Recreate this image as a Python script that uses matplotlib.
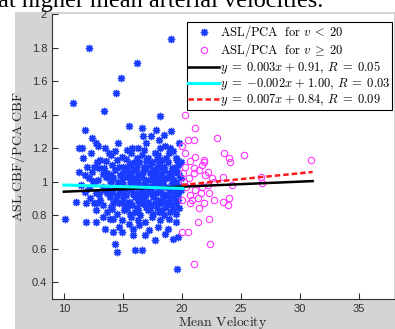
import matplotlib
matplotlib.use('Agg')
import matplotlib.pyplot as plt
from matplotlib.patches import Rectangle
from matplotlib.lines import Line2D

plt.rcParams['mathtext.fontset'] = 'cm'

# ---------------- data ----------------
blue_x = [12.1, 19.06, 16.17, 14.86, 14.4, 10.77, 13.38, 18.2,
          11.8, 15.5, 16.6, 17.8, 19.1, 12.4, 12.7, 11.57, 11.3, 13.5, 16.7, 17.4, 18.5, 18.1,
          11.0, 10.06, 11.9, 12.76, 13.47, 14.3, 14.55, 16.0, 16.6, 19.6, 18.6, 19.3, 19.7, 16.9,
          17.7, 15.9, 15.5, 14.9, 14.2, 12.7, 12.6, 13.3, 13.9, 11.9, 11.76,
          12.9, 13.8, 14.6, 15.4, 16.3, 17.0, 17.7, 18.6, 19.3, 19.8,
          11.6, 12.3, 13.1, 14.0, 14.9, 15.7, 16.0, 16.6, 17.1, 17.5, 18.0, 18.3, 18.9, 19.5, 19.9,
          12.0, 12.8, 13.4, 14.1, 14.5, 15.0, 15.6, 15.9, 16.4, 16.8, 17.3, 17.6, 18.1, 18.5, 18.8, 19.2, 19.7,
          11.3, 12.4, 13.0, 13.7, 14.3, 14.8, 15.3, 15.7, 16.1, 16.5, 16.9, 17.3, 17.8, 18.1, 18.5, 18.9, 19.4, 19.8,
          12.1, 12.9, 13.6, 14.2, 14.6, 15.2, 15.9, 16.3, 16.6, 17.0, 17.5, 17.9, 18.3, 18.7, 19.1, 19.5, 19.9,
          11.5, 12.6, 13.3, 14.0, 14.5, 15.0, 15.5, 16.0, 16.4, 16.8, 17.2, 17.7, 18.0, 18.4, 18.9, 19.2, 19.6,
          11.8, 12.7, 13.4, 14.1, 14.8, 15.3, 15.7, 16.1, 16.6, 16.9, 17.4, 17.8, 18.2, 18.6, 19.0, 19.5, 19.9,
          12.2, 13.1, 13.9, 14.4, 15.0, 15.5, 16.0, 16.3, 16.8, 17.1, 17.6, 18.0, 18.4, 18.8, 19.3, 19.7,
          13.3, 14.0, 14.7, 15.2, 15.8, 16.2, 16.6, 17.0, 17.4, 17.9, 18.3, 18.7, 19.2, 19.8,
          13.7, 14.5, 15.1, 15.6, 16.0, 16.5, 17.1, 17.6, 18.1, 18.5, 19.0, 19.5,
          14.2, 14.9, 15.7, 16.3, 16.9, 17.5, 18.2, 18.9, 19.5,
          14.7, 15.9, 16.4, 17.2, 18.0, 18.8,
          13.6, 15.3, 16.2, 17.0, 17.9, 18.7, 19.6,
          12.6, 14.7, 15.4, 16.2, 17.0, 17.9, 18.3, 19.5,
          13.3, 14.0, 15.0, 15.5, 16.3, 16.7, 17.6, 18.3, 19.1, 19.6,
          12.5, 13.9, 14.9, 15.6, 16.1, 16.9, 17.3, 18.1, 18.5, 19.3,
          12.1, 13.7, 14.3, 15.2, 15.8, 16.6, 17.0, 17.5, 18.2, 18.7, 19.4, 19.9,
          13.0, 13.7, 14.5, 15.0, 15.9, 16.4, 17.1, 17.6, 18.4, 18.9, 19.7,
          12.8, 14.2, 15.0, 15.6, 16.4, 16.9, 17.7, 18.1, 18.9, 19.5,
          14.1, 15.4, 16.3, 17.3, 18.3, 19.3,
          14.3, 15.8, 16.8, 18.2, 19.0]
blue_y = [1.80, 1.85, 1.71, 1.62, 1.53, 1.47, 1.42, 1.39,
          1.31, 1.33, 1.32, 1.31, 1.30, 1.26, 1.23, 1.20, 1.20, 1.20, 1.27, 1.27, 1.28, 1.25,
          0.88, 0.78, 0.757, 0.757, 0.72, 0.63, 0.58, 0.59, 0.59, 0.48, 0.69, 0.66, 0.67, 0.68,
          0.65, 0.68, 0.75, 0.70, 0.70, 0.83, 0.87, 0.79, 0.78, 0.87, 1.04,
          1.21, 1.17, 1.23, 1.19, 1.20, 1.23, 1.17, 1.21, 1.18, 1.23,
          1.14, 1.17, 1.13, 1.16, 1.15, 1.17, 1.12, 1.16, 1.14, 1.12, 1.16, 1.13, 1.17, 1.14, 1.12,
          1.09, 1.12, 1.08, 1.10, 1.13, 1.09, 1.11, 1.08, 1.12, 1.09, 1.10, 1.07, 1.11, 1.09, 1.12, 1.08, 1.10,
          1.06, 1.06, 1.08, 1.05, 1.07, 1.04, 1.07, 1.05, 1.07, 1.04, 1.08, 1.05, 1.06, 1.04, 1.07, 1.05, 1.06, 1.04,
          1.02, 1.01, 1.03, 1.02, 1.00, 1.03, 1.02, 1.00, 1.03, 1.01, 1.02, 1.03, 1.01, 1.02, 1.03, 1.00, 1.02,
          0.98, 0.99, 0.97, 0.99, 0.97, 0.98, 0.96, 0.99, 0.97, 0.98, 0.96, 0.99, 0.97, 0.98, 0.96, 0.99, 0.97,
          0.94, 0.93, 0.95, 0.93, 0.94, 0.92, 0.95, 0.93, 0.94, 0.92, 0.95, 0.93, 0.94, 0.92, 0.94, 0.93, 0.95,
          0.90, 0.89, 0.91, 0.89, 0.90, 0.88, 0.91, 0.89, 0.90, 0.88, 0.91, 0.89, 0.90, 0.88, 0.90, 0.89,
          0.86, 0.85, 0.87, 0.85, 0.86, 0.84, 0.87, 0.85, 0.86, 0.84, 0.87, 0.85, 0.86, 0.84,
          0.82, 0.81, 0.83, 0.81, 0.82, 0.80, 0.83, 0.81, 0.82, 0.80, 0.82, 0.81,
          0.78, 0.77, 0.79, 0.77, 0.76, 0.79, 0.77, 0.78, 0.76,
          0.73, 0.72, 0.74, 0.71, 0.73, 0.72,
          1.125, 1.135, 1.14, 1.125, 1.135, 1.14, 1.13,
          1.09, 1.085, 1.09, 1.095, 1.08, 1.09, 1.085, 1.09,
          1.045, 1.04, 1.05, 1.035, 1.045, 1.055, 1.04, 1.05, 1.045, 1.055,
          1.005, 1.01, 1.01, 1.00, 1.015, 1.00, 1.01, 1.00, 1.015, 1.01,
          0.965, 0.96, 0.965, 0.955, 0.97, 0.955, 0.97, 0.975, 0.955, 0.97, 0.96, 0.975,
          0.925, 0.93, 0.92, 0.93, 0.925, 0.915, 0.93, 0.92, 0.925, 0.915, 0.925,
          0.875, 0.87, 0.875, 0.87, 0.875, 0.865, 0.875, 0.87, 0.875, 0.87,
          0.835, 0.84, 0.83, 0.84, 0.83, 0.835,
          1.18, 1.20, 1.19, 1.20, 1.20]

pink_x = [20.28, 21.13, 21.07, 20.5, 23.0, 20.0, 23.6, 24.0, 25.3, 31.0, 24.1,
          21.4, 22.35, 20.05, 20.5, 22.4, 21.0, 22.7, 24.05, 23.5, 23.9, 21.5, 20.7,
          26.7, 26.8, 23.5, 22.6, 24.3, 22.3, 21.1, 20.7, 20.25, 21.7, 21.9, 20.15,
          21.0, 21.0, 22.2, 20.4, 21.1, 21.7, 22.2, 21.4, 21.9, 20.05, 20.7, 20.2,
          21.5, 20.3, 21.9, 22.0, 20.6, 22.7, 21.6, 20.9]
pink_y = [1.40, 1.32, 1.25, 1.25, 1.26, 1.21, 1.17, 1.14, 1.16, 1.13, 1.12,
          0.76, 0.78, 0.70, 0.70, 0.63, 0.51, 0.89, 0.90, 0.88, 0.86, 0.84, 0.87,
          1.03, 0.99, 1.03, 1.02, 0.98, 0.93, 1.15, 1.125, 1.17, 1.10, 1.12, 1.05,
          1.05, 1.08, 1.06, 0.97, 0.95, 0.97, 0.98, 0.90, 0.87, 0.89, 0.92, 1.00,
          1.07, 1.09, 1.13, 1.04, 1.02, 1.00, 0.93, 0.89]

# fit lines: slope, intercept, x-range
fit_all = (0.003, 0.91, 10.0, 31.1)
fit_low = (-0.002, 1.00, 10.0, 20.1)
fit_high = (0.007, 0.84, 20.0, 31.1)
fit_labels = [r'$y\;=\;0.003x\;{+}\;0.91,\,R\;=\;0.05$',
              r'$y\;=\;{-}0.002x\;{+}\;1.00,\,R\;=\;0.03$',
              r'$y\;=\;0.007x\;{+}\;0.84,\,R\;=\;0.09$']

xticks = [10, 15, 20, 25, 30, 35]
yticks = [0.4, 0.6, 0.8, 1.0, 1.2, 1.4, 1.6, 1.8, 2.0]
ytick_labels = ['0.4', '0.6', '0.8', '1', '1.2', '1.4', '1.6', '1.8', '2']

# ---------------- figure ----------------
W, H = 395, 329
fig = plt.figure(figsize=(W / 100, H / 100), dpi=100, facecolor='white')
bg = Rectangle((15 / W, 0), 1 - 15 / W, (H - 12) / H, transform=fig.transFigure,
               facecolor='#d4d4d4', edgecolor='none', zorder=-10)
fig.patches.append(bg)
fig.text(-2 / W, 1 - 6.5 / H, 'at higher mean arterial velocities.', family='Liberation Serif',
         fontsize=17.5, va='baseline', ha='left')

ax = fig.add_axes([52 / W, (H - 299) / H, 342 / W, 285 / H])
ax.set_zorder(5)
ax.set_facecolor('white')
ast = (8, 2, 0)
ax.plot(blue_x, blue_y, linestyle='none', marker=ast, markersize=5.3, markeredgewidth=1.0,
        color='#1a3cff')
ax.plot(pink_x, pink_y, linestyle='none', marker='o', markersize=4.6, markeredgewidth=0.8,
        markerfacecolor='none', markeredgecolor='#ff33ff')

for (m, b, x0, x1), col, ls, lw in [(fit_all, 'black', '-', 1.8),
                                     (fit_low, '#00ffff', '-', 2.2),
                                     (fit_high, '#ff1a1a', (0, (2.2, 1.2)), 1.8)]:
    ax.plot([x0, x1], [m * x0 + b, m * x1 + b], color=col, linestyle=ls, linewidth=lw)

ax.set_xlim(9, 38)
ax.set_ylim(0.3, 2.0)
ax.set_xticks(xticks)
ax.set_yticks(yticks)
ax.set_yticklabels(ytick_labels)
for s in ['top', 'right']:
    ax.spines[s].set_visible(False)
for s in ['left', 'bottom']:
    ax.spines[s].set_color('#333333')
    ax.spines[s].set_linewidth(0.8)
ax.tick_params(direction='in', length=4, width=0.8, color='#333333', labelcolor='#333333',
               labelsize=8)
for lab in ax.get_xticklabels() + ax.get_yticklabels():
    lab.set_family('Liberation Sans')

ax.set_xlabel(r'$\mathrm{Mean\ Velocity}$', fontsize=10, color='#222222', labelpad=0)
ax.set_ylabel(r'$\mathrm{ASL\ CBF/PCA\ CBF}$', fontsize=10, color='#222222', labelpad=3)

handles = [Line2D([], [], linestyle='none', marker=ast, markersize=5.3, markeredgewidth=1.0, color='#1a3cff'),
           Line2D([], [], linestyle='none', marker='o', markersize=4.6, markeredgewidth=0.8,
                  markerfacecolor='none', markeredgecolor='#ff33ff'),
           Line2D([], [], color='black', linewidth=1.8),
           Line2D([], [], color='#00ffff', linewidth=2.2),
           Line2D([], [], color='#ff1a1a', linewidth=1.8, linestyle=(0, (2.2, 1.2)))]
labels = [r'$\mathrm{ASL/PCA\ \ for\ }v\;<\;20$', r'$\mathrm{ASL/PCA\ \ for\ }v\;\geq\;20$'] + fit_labels
leg = ax.legend(handles, labels, loc='upper right', bbox_to_anchor=(340 / 342, (299 - 22) / 285),
                borderaxespad=0, fancybox=False, edgecolor='black', framealpha=1, fontsize=9.0,
                handlelength=2.45, handletextpad=0.1, labelspacing=0.0, borderpad=0.1)
leg.get_frame().set_linewidth(0.8)

fig.savefig('out.png', dpi=100, facecolor=fig.get_facecolor())
